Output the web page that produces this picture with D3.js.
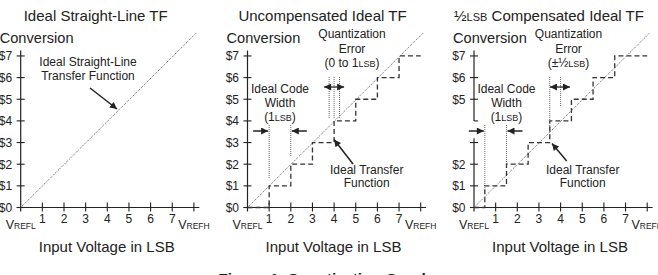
<!DOCTYPE html>
<html><head><meta charset="utf-8">
<script src="https://cdn.jsdelivr.net/npm/d3@7/dist/d3.min.js"></script>
<style>
html,body{margin:0;padding:0;background:#fff;}
svg{display:block;font-family:"Liberation Sans",Arial,sans-serif;}
</style></head>
<body><svg id="c" width="658" height="275"></svg>
<script>
// ---- data ----
const panelTitles = ["Ideal Straight-Line TF", "Uncompensated Ideal TF", "Compensated Ideal TF"];
const codes = [0, 1, 2, 3, 4, 5, 6, 7];
const yTickLabels = ["$0", "$1", "$2", "$3", "$4", "$5", "$6", "$7"];
const xTicks = [1, 2, 3, 4, 5, 6, 7];
const xTickLabels = ["1", "2", "3", "4", "5", "6", "7"];
const idealLine = [[0, 0], [8.1, 8.05]];
const uncompEdges = [0, 1, 2, 3, 4, 5, 6, 7, 8];
const compEdges = [0, 0.5, 1.5, 2.5, 3.5, 4.5, 5.5, 6.5, 8];
const panel3HiddenLabels = [3, 4];

const svg = d3.select("#c");
const ink = "#222";
const origins = [20.7, 247.5, 474];
const unit = 21.65;

const defs = svg.append("defs");
defs.append("marker").attr("id", "ah").attr("viewBox", "0 0 10 10")
  .attr("refX", 10).attr("refY", 5).attr("markerWidth", 9).attr("markerHeight", 7)
  .attr("markerUnits", "userSpaceOnUse").attr("orient", "auto")
  .append("path").attr("d", "M0,0 L10,5 L0,10 Z").attr("fill", ink);

function txt(g, x, y, s, size, anchor, weight) {
  return g.append("text").attr("x", x).attr("y", y).attr("font-size", size)
    .attr("text-anchor", anchor || "middle").attr("fill", ink)
    .attr("font-weight", weight || "normal").text(s);
}
function lsbText(g, x, y, pre, post) {
  const t = g.append("text").attr("x", x).attr("y", y).attr("font-size", 12)
    .attr("text-anchor", "middle").attr("fill", ink);
  t.append("tspan").text(pre);
  t.append("tspan").attr("font-size", 9).text("LSB");
  t.append("tspan").text(post);
  return t;
}
function arrow(g, x1, y1, x2, y2, w) {
  g.append("line").attr("x1", x1).attr("y1", y1).attr("x2", x2).attr("y2", y2)
    .attr("stroke", ink).attr("stroke-width", w || 1.5).attr("marker-end", "url(#ah)");
}
function dotted(g, x1, y1, x2, y2) {
  g.append("line").attr("x1", x1).attr("y1", y1).attr("x2", x2).attr("y2", y2)
    .attr("stroke", "#555").attr("stroke-width", 0.9).attr("stroke-dasharray", "1,1");
}

origins.forEach((ox, p) => {
  const g = svg.append("g");
  const x = d3.scaleLinear().domain([0, 8]).range([ox, ox + 8 * unit]);
  const y = d3.scaleLinear().domain([0, 7]).range([207.5, 207.5 - 7 * unit]);

  // title
  if (p === 2) {
    const t = g.append("text").attr("x", ox + 75).attr("y", 20.5).attr("font-size", 15)
      .attr("text-anchor", "middle").attr("fill", ink);
    t.append("tspan").text("½");
    t.append("tspan").attr("font-size", 11).text("LSB");
    t.append("tspan").text(" " + panelTitles[p]);
  } else {
    txt(g, ox + 75, 20.5, panelTitles[p], 15);
  }
  txt(g, ox - 21, 42.5, "Conversion", 14.6, "start");

  // y axis
  if (p === 2) {
    g.append("line").attr("x1", x(0)).attr("x2", x(0)).attr("y1", y(7.25)).attr("y2", y(4)).attr("stroke", ink).attr("stroke-width", 1.2);
    g.append("line").attr("x1", x(0)).attr("x2", x(0)).attr("y1", y(3.2)).attr("y2", y(0) + 4).attr("stroke", ink).attr("stroke-width", 1.2);
  } else {
    g.append("line").attr("x1", x(0)).attr("x2", x(0)).attr("y1", y(7.25)).attr("y2", y(0) + 4).attr("stroke", ink).attr("stroke-width", 1.2);
  }
  codes.forEach((c, i) => {
    const x1 = (p === 2 && c === 4) ? x(0) : x(0) - 4;
    g.append("line").attr("x1", x1).attr("x2", x(0) + 4).attr("y1", y(c)).attr("y2", y(c)).attr("stroke", ink).attr("stroke-width", 1.1);
    if (!(p === 2 && panel3HiddenLabels.includes(c)))
      txt(g, x(0) - 8.5, y(c) + 4.3, yTickLabels[i], 12, "end");
  });

  // x axis
  g.append("line").attr("x1", x(0) - 4).attr("x2", x(8.25)).attr("y1", y(0)).attr("y2", y(0)).attr("stroke", ink).attr("stroke-width", 1.2);
  xTicks.concat([8]).forEach(v => {
    g.append("line").attr("x1", x(v)).attr("x2", x(v)).attr("y1", y(0) - 5).attr("y2", y(0) + 4).attr("stroke", ink).attr("stroke-width", 1.1);
  });
  xTicks.forEach((v, i) => txt(g, x(v), 222.5, xTickLabels[i], 12));
  [[0, "REFL"], [8, "REFH"]].forEach(([v, sub]) => {
    const t = g.append("text").attr("x", x(v)).attr("y", 228.5).attr("font-size", 12.5)
      .attr("text-anchor", "middle").attr("fill", ink);
    t.append("tspan").text("V");
    t.append("tspan").attr("font-size", 8.5).text(sub);
  });
  txt(g, ox + 86, 252.3, "Input Voltage in LSB", 15);

  // ideal straight line
  g.append("path").attr("d", d3.line().x(d => x(d[0])).y(d => y(d[1]))(idealLine))
    .attr("fill", "none").attr("stroke", "#444").attr("stroke-width", 0.9).attr("stroke-dasharray", "1,1.2");

  if (p === 0) {
    txt(g, 88, 65.7, "Ideal Straight-Line", 12);
    txt(g, 88, 80, "Transfer Function", 12);
    arrow(g, 90, 88, 117, 109);
  } else {
    const edges = p === 1 ? uncompEdges : compEdges;
    const pts = codes.map(c => [edges[c], c]).concat([[edges[8], 7]]);
    g.append("path").attr("d", d3.line().curve(d3.curveStepAfter).x(d => x(d[0])).y(d => y(d[1]))(pts))
      .attr("fill", "none").attr("stroke", "#333").attr("stroke-width", 1.3).attr("stroke-dasharray", "5,3");

    // code width annotation
    const cw0 = p === 1 ? 1 : 0.5, cw1 = cw0 + 1;
    txt(g, x(1.5), 93.3, "Ideal Code", 12);
    txt(g, x(1.5), 106.7, "Width", 12);
    lsbText(g, x(1.5), 120.7, "(1", ")");
    dotted(g, x(cw0), 125, x(cw0), y(cw0) - 8);
    dotted(g, x(cw1), 125, x(cw1), y(cw1) - 8);
    arrow(g, x(cw0) - 16, 131, x(cw0) - 1, 131);
    arrow(g, x(cw1) + 16, 131, x(cw1) + 1, 131);

    // quantization error annotation
    if (p === 1) {
      txt(g, 352, 38.3, "Quantization", 12);
      txt(g, 352, 53, "Error", 12);
      lsbText(g, 352, 66.7, "(0 to 1", ")");
      [3.77, 4.0, 4.25].forEach(v => dotted(g, x(v), 77, x(v), 118));
      arrow(g, x(4), 87, x(4) - 10, 87, 1.3);
      arrow(g, x(4), 87, x(4) + 10, 87, 1.3);
      txt(g, 366.7, 174.3, "Ideal Transfer", 12);
      txt(g, 366.7, 187.3, "Function", 12);
      arrow(g, 353, 164, 334, 139.5);
    } else {
      txt(g, 568.5, 38.3, "Quantization", 12);
      txt(g, 568.5, 53, "Error", 12);
      lsbText(g, 568.5, 66.7, "(±½", ")");
      dotted(g, x(3.5), 77, x(3.5), 132);
      dotted(g, x(4), 77, x(4), 107);
      arrow(g, 560, 87, 550, 87, 1.3);
      arrow(g, 560, 87, 570, 87, 1.3);
      txt(g, 582.7, 174.3, "Ideal Transfer", 12);
      txt(g, 582.7, 187.3, "Function", 12);
      arrow(g, 566.7, 161, 552, 143.5);
    }
  }
});

txt(svg, 329, 284, "Figure 1. Quantization Graphs", 15.5, "middle", "bold");
</script></body></html>
